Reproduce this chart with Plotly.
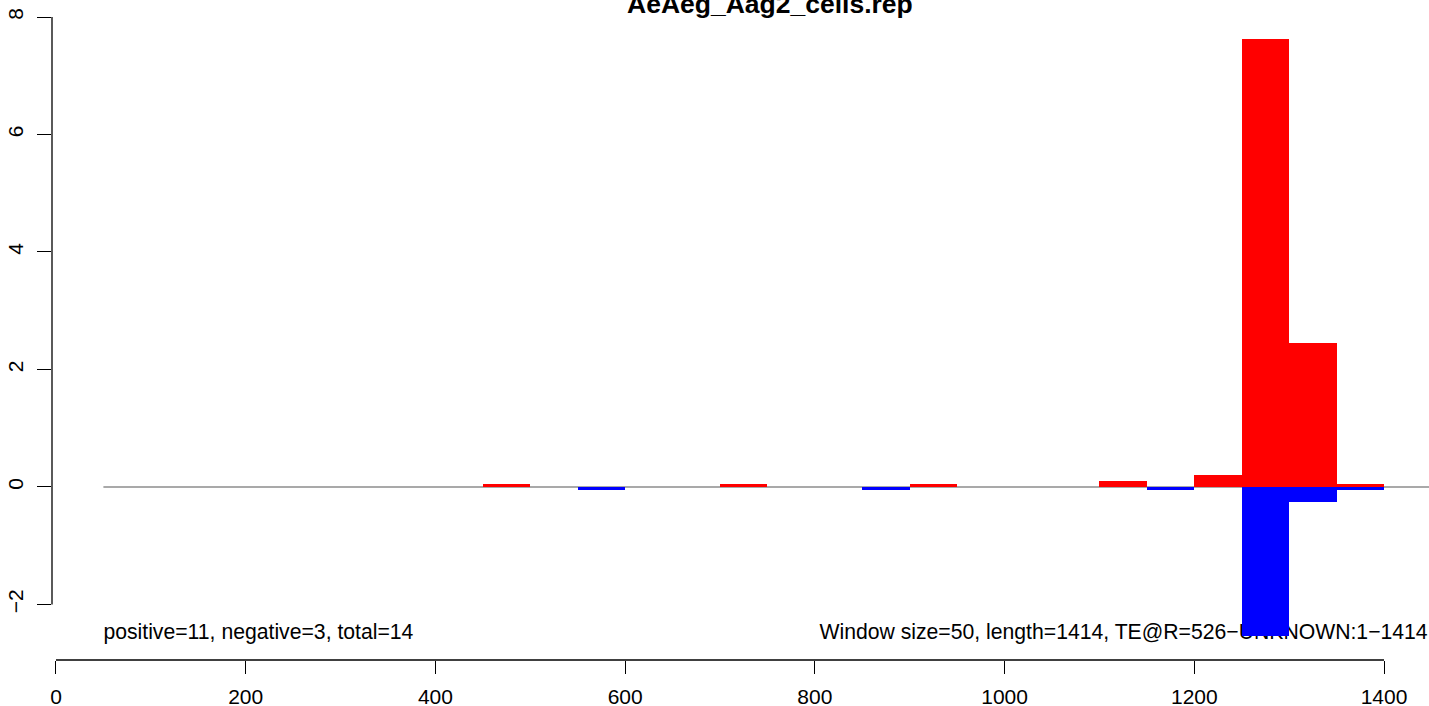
import plotly.graph_objects as go

# ---- data ----
window_size = 50
pos_bin_start = [450, 700, 900, 1100, 1200, 1250, 1300, 1350]
pos_values = [0.05, 0.05, 0.05, 0.10, 0.20, 7.62, 2.45, 0.05]
neg_bin_start = [550, 850, 1150, 1250, 1300, 1350]
neg_values = [-0.05, -0.05, -0.05, -2.54, -0.25, -0.05]
zero_line_x = [50, 1500]
x_ticks = [0, 200, 400, 600, 800, 1000, 1200, 1400]
y_ticks = [-2, 0, 2, 4, 6, 8]
title_text = "AeAeg_Aag2_cells.rep"
left_note = "positive=11, negative=3, total=14"
right_note = "Window size=50, length=1414, TE@R=526\u2212UNKNOWN:1\u22121414"
left_note_x = 50
right_note_x = 1446
note_y = -2.50

FONT = "Liberation Sans, Arial, Helvetica, sans-serif"
W, H = 1429, 706
ml, mr, mt, mb = 52, 0, 15, 46
xr = [-4.2, 1447.4]
yr = [-2.945, 8.034]

pos_centers = [s + window_size / 2 for s in pos_bin_start]
neg_centers = [s + window_size / 2 for s in neg_bin_start]

fig = go.Figure()

# zero reference line (main subplot, below bars)
fig.add_trace(go.Scatter(x=zero_line_x, y=[0, 0], mode="lines",
                         line=dict(color="#8c8c8c", width=1.5),
                         hoverinfo="skip", showlegend=False,
                         xaxis="x", yaxis="y"))
# notes (main subplot, below bars)
fig.add_trace(go.Scatter(x=[left_note_x], y=[note_y], mode="text",
                         text=[left_note], textposition="middle right",
                         textfont=dict(family=FONT, size=21.2, color="black"),
                         cliponaxis=False,
                         showlegend=False, xaxis="x", yaxis="y"))
fig.add_trace(go.Scatter(x=[right_note_x], y=[note_y], mode="text",
                         text=[right_note], textposition="middle left",
                         textfont=dict(family=FONT, size=21.2, color="black"),
                         cliponaxis=False,
                         showlegend=False, xaxis="x", yaxis="y"))

# bars on overlay subplot so they cover the text
fig.add_trace(go.Bar(x=pos_centers, y=pos_values, width=window_size,
                     marker=dict(color="#ff0000", line=dict(width=0)),
                     showlegend=False, xaxis="x2", yaxis="y2"))
fig.add_trace(go.Bar(x=neg_centers, y=neg_values, width=window_size,
                     marker=dict(color="#0000ff", line=dict(width=0)),
                     showlegend=False, xaxis="x2", yaxis="y2"))

axis_common = dict(showgrid=False, zeroline=False, showline=False, automargin=False)

fig.update_layout(
    width=W, height=H,
    margin=dict(l=ml, r=mr, t=mt, b=mb, pad=0, autoexpand=False),
    paper_bgcolor="white", plot_bgcolor="white",
    barmode="overlay", bargap=0,
    font=dict(family=FONT, size=21, color="black"),
    xaxis=dict(range=xr, tickvals=x_ticks, ticktext=[str(v) for v in x_ticks],
               ticks="outside", ticklen=13, tickwidth=1.3, tickcolor="black",
               ticklabelstandoff=5,
               tickfont=dict(family=FONT, size=21, color="black"),
               **axis_common),
    yaxis=dict(range=yr, tickvals=y_ticks,
               ticktext=[("\u2212" + str(-v)) if v < 0 else str(v) for v in y_ticks],
               ticks="outside", ticklen=14, tickwidth=1.3, tickcolor="black",
               tickangle=-90, ticklabelstandoff=6,
               tickfont=dict(family=FONT, size=21, color="black"),
               **axis_common),
    xaxis2=dict(range=xr, overlaying="x", visible=False, **axis_common),
    yaxis2=dict(range=yr, overlaying="y", visible=False, **axis_common),
    annotations=[dict(text="<b>" + title_text + "</b>", xref="paper", yref="paper",
                      x=(770 - ml) / (W - ml - mr), y=1.0 + 11 / (H - mt - mb),
                      xanchor="center", yanchor="middle", showarrow=False,
                      font=dict(family=FONT, size=26.5, color="black"))],
    shapes=[
        dict(type="line", xref="x", yref="paper", x0=x_ticks[0], x1=x_ticks[-1],
             y0=0, y1=0, line=dict(color="black", width=1.3)),
        dict(type="line", xref="paper", yref="y", x0=0, x1=0,
             y0=y_ticks[0], y1=y_ticks[-1], line=dict(color="black", width=1.3)),
    ],
)

fig.write_html("out.html", config={"displayModeBar": False},
               post_script="document.body.style.margin='0';document.body.style.overflow='hidden';")
